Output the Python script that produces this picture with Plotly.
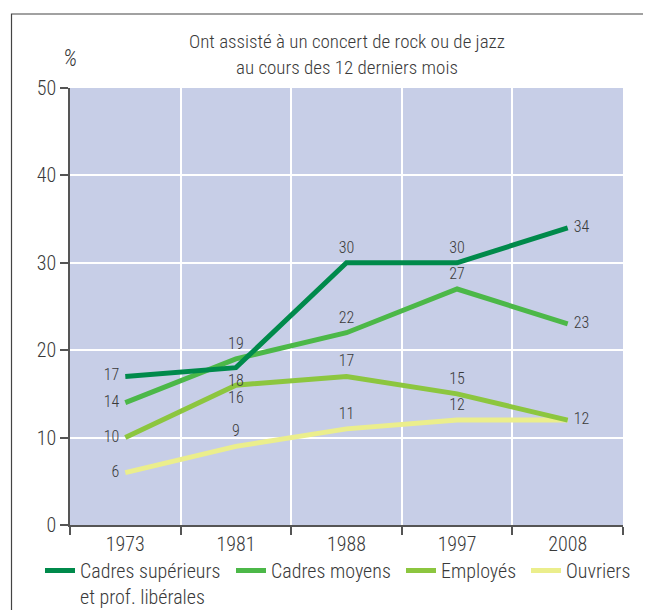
import plotly.graph_objects as go

years = ["1973", "1981", "1988", "1997", "2008"]
cadres_sup = [17, 18, 30, 30, 34]
cadres_moyens = [14, 19, 22, 27, 23]
employes = [10, 16, 17, 15, 12]
ouvriers = [6, 9, 11, 12, 12]

names = ["Cadres supérieurs<br>et prof. libérales", "Cadres moyens", "Employés", "Ouvriers"]
colors = ["#008a4b", "#4cb848", "#8cc63f", "#ebee8c"]

pos_sup = ["middle left", "bottom center", "top center", "top center", "middle right"]
pos_moy = ["middle left", "top center", "top center", "top center", "middle right"]
pos_emp = ["middle left", "bottom center", "top center", "top center", "middle right"]
pos_ouv = ["middle left", "top center", "top center", "top center", "middle right"]

lab_sup = [str(v) for v in cadres_sup]
lab_moy = [str(v) for v in cadres_moyens]
lab_emp = [str(v) for v in employes]
lab_ouv = [str(v) for v in ouvriers[:-1]] + [""]

FONT = "Roboto Condensed, Liberation Sans Narrow, DejaVu Sans Condensed, sans-serif"
TXT = "#3a3a3a"

series = [
    (cadres_sup, names[0], colors[0], pos_sup, lab_sup, "legend"),
    (cadres_moyens, names[1], colors[1], pos_moy, lab_moy, "legend2"),
    (employes, names[2], colors[2], pos_emp, lab_emp, "legend3"),
    (ouvriers, names[3], colors[3], pos_ouv, lab_ouv, "legend4"),
]

fig = go.Figure()
for vals, name, col, pos, lab, leg in reversed(series):
    fig.add_trace(go.Scatter(
        x=years, y=vals, name=name, mode="lines+markers+text",
        line=dict(color=col, width=5),
        marker=dict(size=8, color="rgba(0,0,0,0)", line=dict(width=0)),
        text=lab, textposition=pos,
        textfont=dict(family=FONT, size=16, color=TXT, weight=300),
        legend=leg, hoverinfo="skip", showlegend=True,
    ))

OFF = 8  # page body margin
W, H = 651 - OFF, 610 - OFF
L, R, T, B = 70 - OFF, 651 - 623, 88 - OFF, 610 - 525
pw, ph = W - L - R, H - T - B

def px(x):
    return (x - OFF - L) / pw

def py(y):
    return (H - B - (y - OFF)) / ph

def cx(x):
    return (x - OFF) / W

def cy(y):
    return (H - (y - OFF)) / H

legend_common = dict(
    orientation="h", xref="container", yref="container", yanchor="top", xanchor="left",
    font=dict(family=FONT, size=20, color=TXT, weight=300), valign="top", bgcolor="rgba(0,0,0,0)",
    itemwidth=30,
)
LY = cy(551)
fig.update_layout(
    width=W, height=H,
    margin=dict(l=L, r=R, t=T, b=B, autoexpand=False),
    showlegend=True,
    paper_bgcolor="white",
    plot_bgcolor="#c7cee7",
    font=dict(family=FONT, color=TXT, weight=300),
    legend=dict(x=cx(40), y=LY, **legend_common),
    legend2=dict(x=cx(231), y=LY, **legend_common),
    legend3=dict(x=cx(401), y=LY, **legend_common),
    legend4=dict(x=cx(526), y=LY, **legend_common),
    xaxis=dict(
        type="category", range=[-0.5, 4.5], tickson="boundaries", showgrid=True,
        gridcolor="white", gridwidth=1.5, automargin=False,
        showline=True, linecolor="#555555", linewidth=1.5,
        ticks="outside", ticklen=8, tickcolor="#555555", tickwidth=1.5,
        tickfont=dict(family=FONT, size=20, color=TXT, weight=300), fixedrange=True,
    ),
    yaxis=dict(
        range=[0, 50], tickvals=[0, 10, 20, 30, 40, 50], showgrid=True, gridcolor="white", gridwidth=1.5,
        showline=True, linecolor="#555555", linewidth=1.5, zeroline=False, automargin=False,
        ticks="outside", ticklen=8, tickcolor="#555555", tickwidth=1.5,
        tickfont=dict(family=FONT, size=20, color=TXT, weight=300), fixedrange=True,
    ),
    annotations=[
        dict(text="Ont assisté à un concert de rock ou de jazz", x=px(347), y=py(41),
             xref="paper", yref="paper", showarrow=False, xanchor="center", yanchor="middle",
             font=dict(family=FONT, size=19, color=TXT, weight=300)),
        dict(text="au cours des 12 derniers mois", x=px(347), y=py(67),
             xref="paper", yref="paper", showarrow=False, xanchor="center", yanchor="middle",
             font=dict(family=FONT, size=19, color=TXT, weight=300)),
        dict(text="<i>%</i>", x=px(70), y=py(58),
             xref="paper", yref="paper", showarrow=False, xanchor="center", yanchor="middle",
             font=dict(family=FONT, size=23, color=TXT, weight=300)),
    ],
    shapes=[
        dict(type="path", xref="paper", yref="paper",
             path=f"M {px(11.5)},{py(640)} L {px(11.5)},{py(14)} L {px(680)},{py(14)}",
             line=dict(color="#444444", width=1.2)),
    ],
)

fig.write_html("out.html")
